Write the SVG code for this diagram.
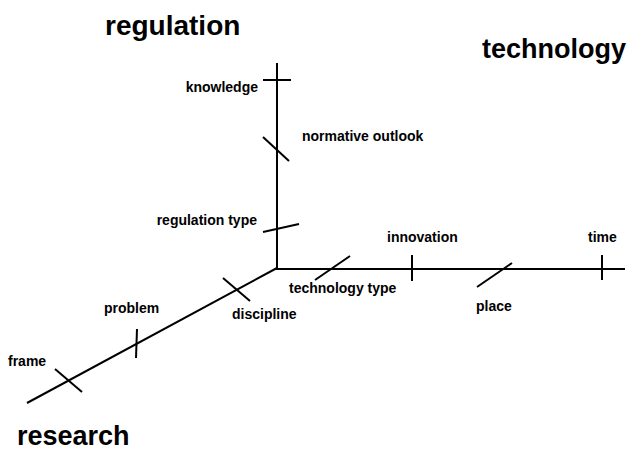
<svg xmlns="http://www.w3.org/2000/svg" width="636" height="450" viewBox="0 0 636 450">
<style>
.ax{stroke:#000;stroke-width:2;fill:none;stroke-linecap:butt}
.t{font-family:"Liberation Sans",Arial,sans-serif;font-weight:bold;font-size:27px;fill:#000}
.l{font-family:"Liberation Sans",Arial,sans-serif;font-weight:bold;font-size:14px;fill:#000}
</style>
<rect width="636" height="450" fill="#fff"/>
<g id="connectors">
<line class="ax" x1="277" y1="63" x2="277" y2="269"/>
<line class="ax" x1="276" y1="269" x2="625" y2="269"/>
<line class="ax" x1="277" y1="268" x2="27" y2="403"/>
</g>
<g id="regulation-axis">
<text class="t" x="105" y="35" style="font-size:28px">regulation</text>
<g id="knowledge"><line class="ax" x1="263" y1="80" x2="291" y2="80"/><text class="l" x="258" y="92" text-anchor="end">knowledge</text></g>
<g id="normative-outlook"><line class="ax" x1="263" y1="137" x2="289" y2="161"/><text class="l" x="302" y="141">normative outlook</text></g>
<g id="regulation-type"><line class="ax" x1="263" y1="232" x2="299" y2="224"/><text class="l" x="257" y="225" text-anchor="end">regulation type</text></g>
</g>
<g id="technology-axis">
<text class="t" x="482" y="58">technology</text>
<g id="technology-type"><line class="ax" x1="315" y1="280" x2="350" y2="256"/><text class="l" x="289" y="293">technology type</text></g>
<g id="innovation"><line class="ax" x1="412" y1="255" x2="412" y2="281"/><text class="l" x="387" y="242">innovation</text></g>
<g id="place"><line class="ax" x1="477" y1="287" x2="512" y2="263"/><text class="l" x="476" y="311">place</text></g>
<g id="time"><line class="ax" x1="602" y1="255" x2="602" y2="280"/><text class="l" x="588" y="242">time</text></g>
</g>
<g id="research-axis">
<text class="t" x="17" y="445">research</text>
<g id="discipline"><line class="ax" x1="223" y1="278" x2="250" y2="301"/><text class="l" x="232" y="319">discipline</text></g>
<g id="problem"><line class="ax" x1="137" y1="329" x2="136" y2="358"/><text class="l" x="104" y="313">problem</text></g>
<g id="frame"><line class="ax" x1="55" y1="369" x2="82" y2="392"/><text class="l" x="8" y="366">frame</text></g>
</g>
</svg>
